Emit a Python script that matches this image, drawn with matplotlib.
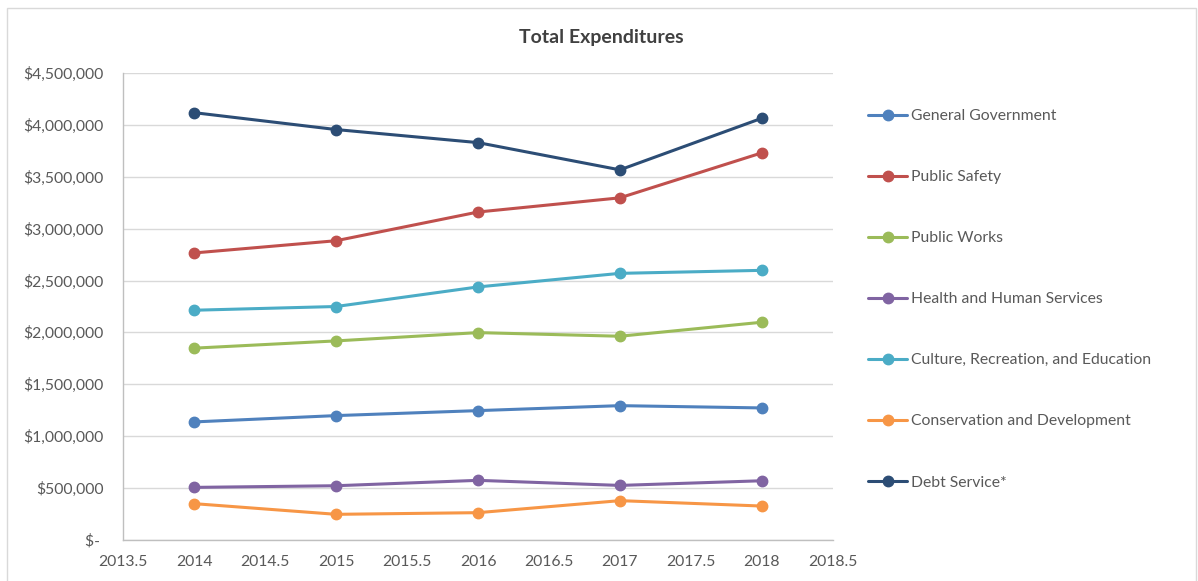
import matplotlib
matplotlib.use("Agg")
import matplotlib.pyplot as plt
from matplotlib.patches import Rectangle
from matplotlib.ticker import FuncFormatter, MultipleLocator

years = [2014, 2015, 2016, 2017, 2018]
general_government = [1135000, 1196000, 1244000, 1292000, 1270000]
public_safety = [2766000, 2884000, 3161000, 3298000, 3732000]
public_works = [1847000, 1917000, 1997000, 1962000, 2097000]
health_human = [503000, 519000, 571000, 522000, 567000]
culture_rec_edu = [2213000, 2249000, 2438000, 2569000, 2598000]
conservation_dev = [346000, 243000, 259000, 375000, 323000]
debt_service = [4120000, 3957000, 3831000, 3568000, 4066000]

series_names = ["General Government", "Public Safety", "Public Works",
                "Health and Human Services", "Culture, Recreation, and Education",
                "Conservation and Development", "Debt Service*"]
series_values = [general_government, public_safety, public_works, health_human,
                 culture_rec_edu, conservation_dev, debt_service]
colors = ["#4F81BD", "#C0504D", "#9BBB59", "#8064A2", "#4BACC6", "#F79646", "#2C4D75"]

plt.rcParams['font.family'] = ['Lato', 'DejaVu Sans']
text_color = "#595959"
fs = 11.3

W, H = 1198, 581
fig = plt.figure(figsize=(W / 100, H / 100), dpi=100)
ax = fig.add_axes([123.3 / W, 1 - 539.5 / H, (832.7 - 123.3) / W, (539.5 - 73.3) / H])

for name, vals, c in zip(series_names, series_values, colors):
    ax.plot(years, vals, color=c, lw=2.2, marker='o', ms=7.5, label=name,
            solid_capstyle='round', zorder=3)

ax.set_xlim(2013.5, 2018.5)
ax.set_ylim(0, 4500000)
ax.xaxis.set_major_locator(MultipleLocator(0.5))
ax.yaxis.set_major_locator(MultipleLocator(500000))

def yfmt(v, pos):
    if abs(v) < 1:
        return "$- "
    return "${:,.0f}".format(v)

def xfmt(v, pos):
    if abs(v - round(v)) < 1e-6:
        return "{:d}".format(int(round(v)))
    return "{:.1f}".format(v)

ax.yaxis.set_major_formatter(FuncFormatter(yfmt))
ax.xaxis.set_major_formatter(FuncFormatter(xfmt))
ax.tick_params(axis='both', length=0, labelsize=fs, colors=text_color)
ax.tick_params(axis='y', pad=14)
ax.tick_params(axis='x', pad=11)
ax.grid(axis='y', color='#D9D9D9', lw=1)
ax.set_axisbelow(True)
for s in ['top', 'right']:
    ax.spines[s].set_visible(False)
for s in ['left', 'bottom']:
    ax.spines[s].set_color('#BFBFBF')
    ax.spines[s].set_linewidth(1)

fig.text(601 / W, 1 - 37.5 / H, "Total Expenditures", ha='center', va='center',
         fontsize=14, fontweight='bold', color='#404040')

leg = fig.legend(loc='upper left', bbox_to_anchor=(868 / W, 1 - 109 / H),
                 frameon=False, fontsize=fs, labelspacing=3.0,
                 handlelength=2.5, handletextpad=0.25, borderpad=0,
                 borderaxespad=0)
for t in leg.get_texts():
    t.set_color(text_color)

fig.add_artist(Rectangle((7 / W, -0.05), (1196 - 7) / W, 1 - 8 / H + 0.05,
                         transform=fig.transFigure, fill=False,
                         edgecolor='#D9D9D9', lw=1, clip_on=False))

fig.savefig("out.png", dpi=100)
